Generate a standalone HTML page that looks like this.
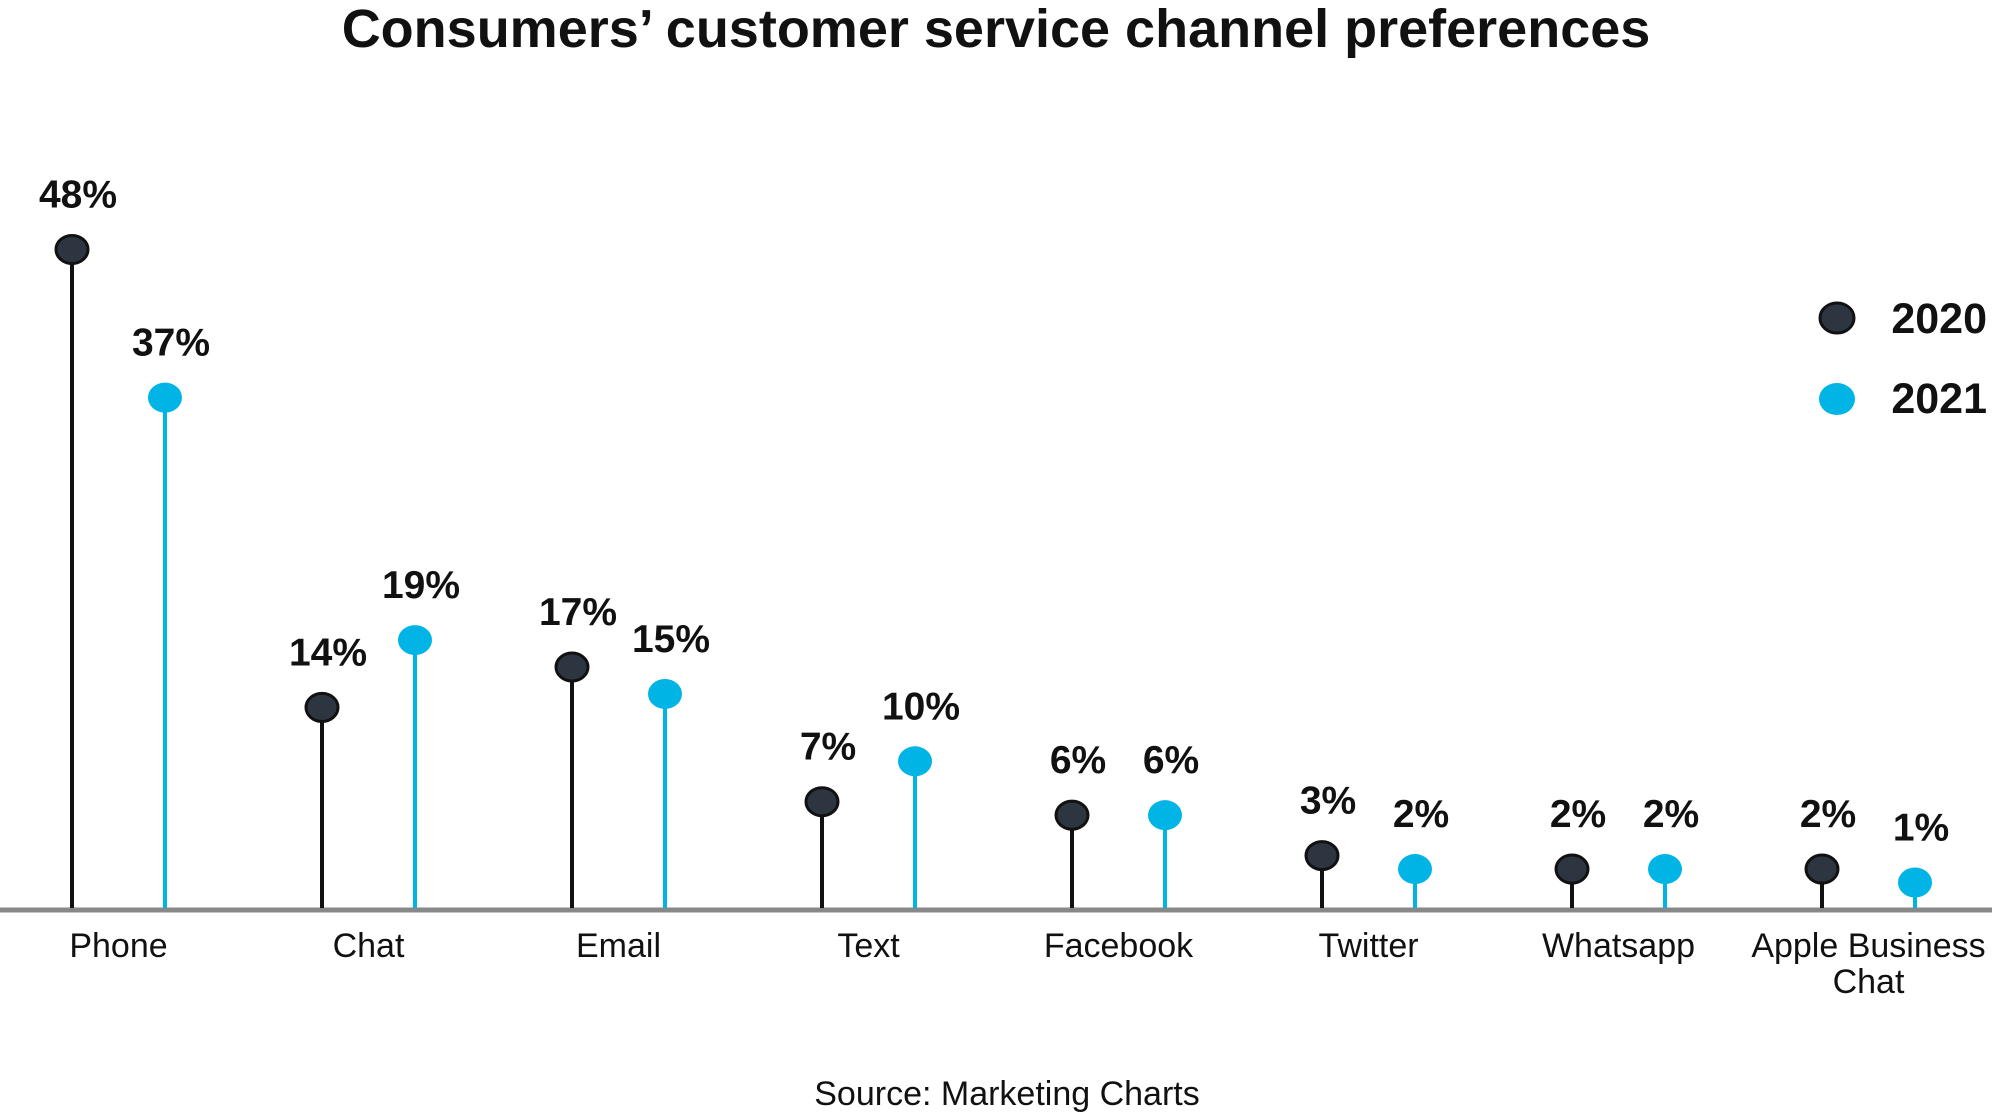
<!DOCTYPE html>
<html><head><meta charset="utf-8"><style>
html,body{margin:0;padding:0;background:#fff;}
svg{display:block;font-family:"Liberation Sans",sans-serif;}
</style></head><body>
<svg id="chart" width="1999" height="1117" viewBox="0 0 1999 1117">
<text x="996" y="47" text-anchor="middle" font-size="54" font-weight="bold" fill="#111">Consumers’ customer service channel preferences</text>
<line x1="0" y1="910" x2="1992" y2="910" stroke="#888" stroke-width="5"/>
<g id="marks"></g>
<g>
<ellipse cx="1837" cy="318" rx="17" ry="15" fill="#2d3640" stroke="#111" stroke-width="3"/>
<text x="1987" y="333" text-anchor="end" font-size="43" font-weight="bold" fill="#111">2020</text>
<ellipse cx="1837" cy="399" rx="18" ry="16" fill="#00b4e6"/>
<text x="1987" y="413" text-anchor="end" font-size="43" font-weight="bold" fill="#111">2021</text>
</g>
<text x="1007" y="1105" text-anchor="middle" font-size="34" fill="#111">Source: Marketing Charts</text>
</svg>
<script>
const categories = ["Phone","Chat","Email","Text","Facebook","Twitter","Whatsapp","Apple Business Chat"];
const values2020 = [48,14,17,7,6,3,2,2];
const values2021 = [37,19,15,10,6,2,2,1];
const seriesNames = ["2020","2021"];

const NS = "http://www.w3.org/2000/svg";
const g = document.getElementById("marks");
const baseY = 908, zeroY = 896, pxPerPct = 13.47;
function yScale(v){ return zeroY - v * pxPerPct; }
const groupStart = 72, groupStep = 250;
function xScale(i, s){ return groupStart + i * groupStep + (s === 0 ? 0 : 93); }
function mk(tag, attrs){ const e = document.createElementNS(NS, tag); for (const k in attrs) e.setAttribute(k, attrs[k]); g.appendChild(e); return e; }

const series = [values2020, values2021];
const colors = ["#111", "#00b4e6"];
categories.forEach((c, i) => {
  series.forEach((vals, s) => {
    const x = xScale(i, s), y = yScale(vals[i]);
    const st = mk("line", {x1: x, y1: y, x2: x, y2: baseY, stroke: colors[s], "stroke-width": 4});
    
    
    const dot = s === 0
      ? mk("ellipse", {cx: x, cy: y, rx: 16, ry: 14, fill: "#2d3640", stroke: "#111", "stroke-width": 3})
      : mk("ellipse", {cx: x, cy: y, rx: 17, ry: 15, fill: "#00b4e6"});
    
    
    const t = mk("text", {x: x + 6, y: y - 42, "text-anchor": "middle", "font-size": 39, "font-weight": "bold", fill: "#111"});
    t.textContent = vals[i] + "%";
    
    
  });
  const cx = (xScale(i, 0) + xScale(i, 1)) / 2;
  const words = c === "Apple Business Chat" ? ["Apple Business", "Chat"] : [c];
  words.forEach((w, k) => {
    const t = mk("text", {x: cx, y: 957 + k * 36, "text-anchor": "middle", "font-size": 34, fill: "#111"});
    t.textContent = w;
    
    
  });
});
</script>
</body></html>
